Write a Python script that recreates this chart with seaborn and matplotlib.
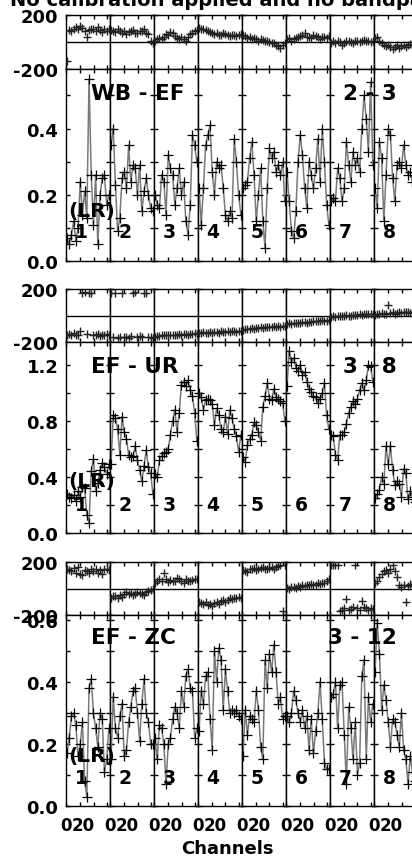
import numpy as np
import pandas as pd
import matplotlib
matplotlib.use("Agg")
import matplotlib.pyplot as plt
import matplotlib.transforms as mtransforms
import seaborn as sns

# ---------------- data ----------------
CHANNELS = np.arange(20) * 3.2 + 1.5          # averaged channel positions in each IF
WINDOW_LABELS = ["1", "2", "3", "4", "5", "6", "7", "8"]
XTICKS = [0, 20]
XTICK_LABELS = ["0", "20"]
XTICKS_MINOR = [40, 60]

BASELINES = ["WB - EF", "EF - UR", "EF - ZC"]
SOURCES = ["2 - 3", "3 - 8", "3 - 12"]
POL = "(LR)"
TITLE = "No calibration applied and no bandpass applied"

WBEF_AMP = [
    [0.07, 0.05, 0.08, 0.12, 0.06, 0.10, 0.24, 0.14, 0.21, 0.13, 0.55, 0.26, 0.11, 0.26, 0.05, 0.20, 0.25, 0.26, 0.17, 0.20],
    [0.35, 0.40, 0.23, 0.09, 0.13, 0.25, 0.27, 0.22, 0.35, 0.24, 0.29, 0.28, 0.20, 0.29, 0.15, 0.21, 0.25, 0.20, 0.16, 0.15],
    [0.20, 0.17, 0.16, 0.26, 0.24, 0.14, 0.32, 0.28, 0.26, 0.17, 0.22, 0.28, 0.20, 0.24, 0.12, 0.08, 0.17, 0.38, 0.35, 0.30],
    [0.22, 0.11, 0.22, 0.35, 0.38, 0.41, 0.27, 0.20, 0.30, 0.28, 0.29, 0.22, 0.14, 0.12, 0.15, 0.13, 0.37, 0.30, 0.20, 0.14],
    [0.22, 0.23, 0.24, 0.31, 0.36, 0.26, 0.12, 0.20, 0.28, 0.12, 0.04, 0.22, 0.34, 0.31, 0.33, 0.27, 0.29, 0.26, 0.30, 0.18],
    [0.27, 0.18, 0.09, 0.07, 0.15, 0.30, 0.38, 0.32, 0.22, 0.16, 0.30, 0.26, 0.22, 0.28, 0.37, 0.24, 0.40, 0.30, 0.17, 0.11],
    [0.18, 0.19, 0.18, 0.28, 0.25, 0.18, 0.22, 0.36, 0.29, 0.24, 0.33, 0.29, 0.31, 0.27, 0.40, 0.50, 0.43, 0.33, 0.54, 0.29],
    [0.22, 0.16, 0.36, 0.31, 0.12, 0.26, 0.40, 0.38, 0.25, 0.18, 0.29, 0.30, 0.28, 0.35, 0.29, 0.26, 0.27, 0.24, 0.29, 0.27],
]
WBEF_PH = [
    [-140, 90, 80, 100, 110, 95, 120, 105, 85, 40, 90, 100, 95, 80, 110, 90, 75, 100, 85, 95],
    [90, 85, 75, 95, 80, 70, 85, 60, 75, 80, 90, 70, 65, 85, 80, 100, 70, 60, 10, -5],
    [10, 20, 30, 25, 40, 60, 55, 75, 65, 45, 30, 25, 35, 20, 10, 40, 60, 70, 85, 90],
    [105, 100, 95, 90, 80, 75, 70, 60, 70, 55, 50, 65, 60, 50, 45, 55, 50, 45, 55, 60],
    [55, 45, 30, 35, 25, 30, 20, 10, 25, 15, 5, 10, 0, -10, -5, -20, -30, -45, -20, -10],
    [20, 30, 10, 25, 30, 40, 45, 55, 70, 40, 35, 30, 50, 45, 35, 25, 40, 35, 30, 45],
    [-10, 5, -5, 10, 0, -20, -5, 10, 5, 0, -10, 5, 10, 0, 5, 15, 10, 5, 0, 10],
    [30, 35, 10, -10, -20, -30, -25, -40, -55, -35, -25, -45, -30, -20, -35, -25, -15, -20, -30, -20],
]

EFUR_AMP = [
    [0.28, 0.26, 0.25, 0.27, 0.23, 0.30, 0.26, 0.33, 0.32, 0.13, 0.07, 0.44, 0.53, 0.30, 0.36, 0.45, 0.50, 0.47, 0.42, 0.49],
    [0.49, 0.84, 0.82, 0.74, 0.56, 0.83, 0.72, 0.67, 0.56, 0.54, 0.55, 0.62, 0.52, 0.45, 0.37, 0.48, 0.59, 0.47, 0.43, 0.28],
    [0.42, 0.40, 0.52, 0.55, 0.57, 0.58, 0.60, 0.70, 0.80, 0.88, 0.72, 0.86, 1.06, 1.08, 1.05, 1.09, 1.02, 0.98, 0.86, 0.66],
    [1.00, 0.97, 0.88, 0.95, 0.96, 0.95, 0.92, 0.77, 0.89, 0.84, 0.74, 0.72, 0.83, 0.71, 0.88, 0.82, 0.74, 0.69, 0.58, 0.70],
    [0.54, 0.51, 0.63, 0.67, 0.70, 0.79, 0.77, 0.72, 0.66, 0.90, 0.98, 1.07, 0.96, 0.95, 1.03, 0.97, 0.96, 0.94, 0.93, 0.80],
    [1.05, 1.30, 1.22, 1.25, 1.18, 1.16, 1.20, 1.13, 1.15, 1.08, 1.03, 1.01, 0.98, 0.97, 0.93, 0.96, 1.00, 1.07, 0.84, 0.74],
    [0.70, 0.69, 0.56, 0.52, 0.70, 0.70, 0.72, 0.78, 0.86, 0.90, 0.94, 0.92, 0.96, 1.02, 1.07, 1.02, 1.09, 1.20, 1.19, 1.08],
    [0.25, 0.28, 0.31, 0.40, 0.35, 0.62, 0.49, 0.62, 0.45, 0.34, 0.37, 0.35, 0.26, 0.46, 0.43, 0.24, 0.30, 0.26, 0.22, 0.20],
]
EFUR_PH = [
    [-145, -140, -150, -135, -145, -150, -120, 170, 175, -140, 172, 168, -145, -150, -140, -155, -145, -150, -140, -150],
    [170, -165, 168, -170, -160, 172, -165, -160, -168, -158, 170, 175, -162, -158, -165, 170, 172, -160, -165, -170],
    [-160, -158, -155, -150, -150, -148, -150, -145, -147, -150, -145, -140, -145, -142, -140, -145, -138, -140, -135, -140],
    [-135, -130, -128, -132, -130, -125, -130, -128, -125, -130, -120, -125, -122, -120, -125, -118, -120, -122, -118, -115],
    [-110, -105, -100, -102, -95, -100, -95, -92, -90, -95, -88, -90, -85, -88, -82, -85, -80, -85, -82, -80],
    [-65, -60, -62, -58, -55, -60, -55, -52, -50, -55, -48, -50, -45, -40, -45, -40, -35, -40, -38, -35],
    [-10, -5, -8, -5, 0, -3, 0, 2, 0, -2, 5, 3, 5, 8, 5, 10, 8, 12, 10, 15],
    [5, 10, 15, 20, 10, 15, 80, 20, 25, 15, 20, 25, 20, 25, 30, 25, 20, 25, 30, 25],
]

EFZC_AMP = [
    [0.17, 0.22, 0.29, 0.30, 0.26, 0.16, 0.20, 0.27, 0.08, 0.03, 0.38, 0.41, 0.30, 0.25, 0.19, 0.30, 0.28, 0.11, 0.15, 0.25],
    [0.15, 0.35, 0.25, 0.22, 0.29, 0.33, 0.16, 0.18, 0.27, 0.32, 0.37, 0.38, 0.30, 0.21, 0.33, 0.41, 0.30, 0.27, 0.20, 0.20],
    [0.22, 0.15, 0.26, 0.25, 0.20, 0.07, 0.20, 0.22, 0.28, 0.32, 0.30, 0.25, 0.37, 0.32, 0.42, 0.44, 0.38, 0.37, 0.22, 0.25],
    [0.24, 0.37, 0.33, 0.42, 0.43, 0.28, 0.18, 0.50, 0.40, 0.51, 0.47, 0.31, 0.44, 0.37, 0.30, 0.31, 0.30, 0.31, 0.29, 0.28],
    [0.16, 0.31, 0.23, 0.29, 0.28, 0.27, 0.37, 0.31, 0.19, 0.15, 0.47, 0.38, 0.49, 0.43, 0.52, 0.43, 0.33, 0.35, 0.28, 0.29],
    [0.29, 0.27, 0.30, 0.37, 0.34, 0.30, 0.27, 0.31, 0.25, 0.29, 0.18, 0.28, 0.17, 0.24, 0.30, 0.40, 0.28, 0.14, 0.12, 0.12],
    [0.35, 0.36, 0.40, 0.25, 0.39, 0.40, 0.23, 0.07, 0.32, 0.25, 0.15, 0.27, 0.10, 0.14, 0.42, 0.47, 0.15, 0.35, 0.27, 0.33],
    [0.43, 0.59, 0.49, 0.31, 0.39, 0.34, 0.27, 0.19, 0.28, 0.27, 0.23, 0.19, 0.30, 0.18, 0.15, 0.07, 0.16, 0.11, 0.08, 0.07],
]
EFZC_PH = [
    [150, 140, 130, 155, 120, 165, 110, 100, 140, 130, 120, 150, 135, 145, 120, 140, 110, 150, 145, 140],
    [-70, -60, -55, -75, -50, -65, -40, -30, -45, -35, -50, -40, -30, -35, -45, -50, -30, -20, -10, 0],
    [40, 60, 70, 55, 120, 75, 50, 65, 60, 55, 80, 70, 60, 45, 70, 60, 55, 65, 70, 75],
    [-100, -110, -120, -105, -125, -115, -130, -110, -100, -120, -95, -90, -105, -85, -75, -80, -70, -75, -65, -70],
    [140, 130, 125, 145, 150, 155, 140, 150, 155, 160, 150, 145, 155, 160, 150, 165, 170, 180, -170, 175],
    [5, 0, 10, 15, 5, 20, 15, 25, 20, 30, 25, 35, 30, 25, 40, 35, 45, 40, 60, 75],
    [178, 175, 180, 176, -170, -165, -150, -80, -160, -155, -140, 180, -150, -165, -92, -140, -150, -160, -145, -155],
    [45, 60, 90, 110, 130, 140, 120, 150, 175, 130, 90, 25, 15, 30, -105, 20, 35, 25, 40, 35],
]

AMP_SERIES = [WBEF_AMP, EFUR_AMP, EFZC_AMP]
PH_SERIES = [WBEF_PH, EFUR_PH, EFZC_PH]
AMP_YMAX = [0.58, 1.364, 0.615]
AMP_TICKS = [[0.0, 0.2, 0.4], [0.0, 0.4, 0.8, 1.2], [0.0, 0.2, 0.4, 0.6]]
AMP_TICK_LABELS = [["0.0", "0.2", "0.4"], ["0.0", "0.4", "0.8", "1.2"],
                   ["0.0", "0.2", "0.4", "0.6"]]
AMP_TICKS_MINOR = [[0.1, 0.3, 0.5], [0.2, 0.6, 1.0], [0.1, 0.3, 0.5]]
PH_TICKS = [-200, 200]
PH_TICK_LABELS = ["-200", "200"]

# ---------------- layout (pixels) ----------------
W, H = 412, 862
X0, WW = 66, 44
ROWS = [((16, 70), (70, 262)), ((290, 343), (343, 534)), ((563, 616), (616, 807))]
NUM_Y = [232, 506, 779]
POL_Y = [211, 482, 757]
NAME_Y = [94, 367, 638]

sns.set_style("ticks")
plt.rcParams["font.family"] = ["DejaVu Sans"]
plt.rcParams["font.weight"] = "bold"
plt.rcParams["text.color"] = "black"
plt.rcParams["xtick.color"] = "black"
plt.rcParams["ytick.color"] = "black"
plt.rcParams["axes.edgecolor"] = "black"

fig = plt.figure(figsize=(W / 100, H / 100), dpi=100)


def rect(x, top, bottom, w):
    return [x / W, 1 - bottom / H, w / W, (bottom - top) / H]


def style_axes(ax, show_y, show_x):
    ax.set_xlim(0, 64)
    ax.set_xticks(XTICKS)
    ax.set_xticklabels(XTICK_LABELS)
    ax.set_xticks(XTICKS_MINOR, minor=True)
    ax.tick_params(which="both", direction="in", top=True, right=True,
                   length=3.2, width=1, color="black", labelsize=13,
                   labelcolor="black", labelleft=show_y, labelbottom=show_x,
                   pad=5.5)
    ax.tick_params(axis="x", which="both", pad=7, labelsize=12)
    for s in ax.spines.values():
        s.set_color("black")
        s.set_linewidth(1)
    ax.set_xlabel("")
    ax.set_ylabel("")
    for lab in ax.get_xticklabels() + ax.get_yticklabels():
        lab.set_fontweight("bold")
    if show_x:
        # nudge the "20" label right so "0" and "20" sit side by side
        shift = mtransforms.ScaledTranslation(3 / 100, 0, fig.dpi_scale_trans)
        lab20 = ax.get_xticklabels()[1]
        lab20.set_transform(lab20.get_transform() + shift)


for r, ((pt, pb), (at, ab)) in enumerate(ROWS):
    for k in range(8):
        x = X0 + WW * k
        # phase panel
        axp = fig.add_axes(rect(x, pt, pb, WW))
        axp.axhline(0, color="black", lw=1, zorder=1)
        dfp = pd.DataFrame({"ch": CHANNELS, "ph": PH_SERIES[r][k]})
        sns.scatterplot(data=dfp, x="ch", y="ph", ax=axp, marker="+", color="#222222",
                        s=40, linewidth=1.0, legend=False, zorder=3)
        axp.set_ylim(-200, 200)
        axp.set_yticks(PH_TICKS)
        axp.set_yticklabels(PH_TICK_LABELS)
        style_axes(axp, k == 0, False)

        # amplitude panel
        axa = fig.add_axes(rect(x, at, ab, WW))
        dfa = pd.DataFrame({"ch": CHANNELS, "amp": AMP_SERIES[r][k]})
        sns.lineplot(data=dfa, x="ch", y="amp", ax=axa, color="#7a7a7a", lw=1.1,
                     marker="+", markersize=7, markeredgecolor="black",
                     markeredgewidth=0.9, legend=False)
        axa.set_ylim(0, AMP_YMAX[r])
        axa.set_yticks(AMP_TICKS[r])
        axa.set_yticklabels(AMP_TICK_LABELS[r])
        axa.set_yticks(AMP_TICKS_MINOR[r], minor=True)
        style_axes(axa, k == 0, r == 2)

        # window number
        fig.text((x + 15) / W, 1 - NUM_Y[r] / H, WINDOW_LABELS[k], ha="center",
                 va="center", fontsize=13.5, fontweight="bold")

    fig.text(68 / W, 1 - POL_Y[r] / H, POL, ha="left", va="center",
             fontsize=14.5, fontweight="bold")
    fig.text(91 / W, 1 - NAME_Y[r] / H, BASELINES[r], ha="left", va="center",
             fontsize=15.5, fontweight="bold")
    fig.text(397 / W, 1 - NAME_Y[r] / H, SOURCES[r], ha="right", va="center",
             fontsize=15.5, fontweight="bold")

fig.text(10 / W, 1 - 6 / H, TITLE, ha="left", va="baseline", fontsize=14,
         fontweight="bold")
fig.text(227 / W, 1 - 849 / H, "Channels", ha="center", va="center",
         fontsize=13, fontweight="bold")

fig.savefig("out.png", dpi=100)
